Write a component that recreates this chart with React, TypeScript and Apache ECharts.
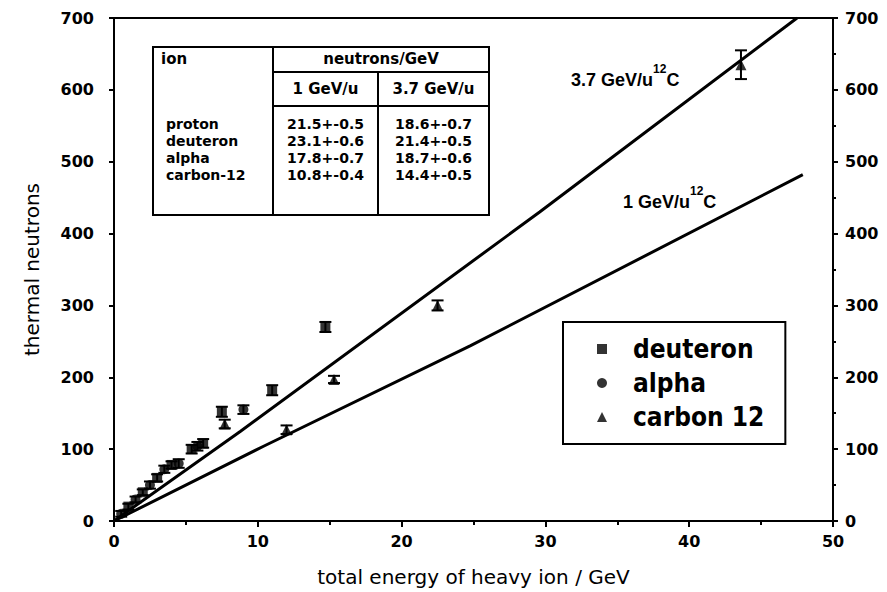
import React, { useEffect, useRef } from "react";
import * as echarts from "echarts";

// ---- data ----
const deuteronX = [1.0, 2.0, 3.0, 4.0, 5.4, 6.2, 7.5, 11.0, 14.7];
const deuteronY = [20, 40, 60, 78, 100, 108, 152, 182, 270];
const deuteronErr = [4, 4, 5, 5, 6, 6, 7, 7, 7];

const alphaX = [0.5, 1.5, 2.5, 3.5, 4.5, 5.8, 9.0];
const alphaY = [10, 30, 50, 72, 80, 104, 155];
const alphaErr = [4, 4, 5, 5, 6, 6, 6];

const carbonX = [7.7, 12.0, 15.3, 22.5, 43.6];
const carbonY = [135, 127, 197, 300, 635];
const carbonErr = [6, 6, 5, 7, 20];

const fit37X = [0, 8.8, 29.6, 47.5];
const fit37Y = [0, 125, 430, 700];
const fit1X = [0, 10.4, 24.8, 47.9];
const fit1Y = [0, 104, 244, 482];

const tableIons = ["proton", "deuteron", "alpha", "carbon-12"];
const table1GeV = ["21.5+-0.5", "23.1+-0.6", "17.8+-0.7", "10.8+-0.4"];
const table37GeV = ["18.6+-0.7", "21.4+-0.5", "18.7+-0.6", "14.4+-0.5"];

const xTitle = "total energy of heavy ion / GeV";
const yTitle = "thermal neutrons";

const pairs = (xs: number[], ys: number[]) => xs.map((x, i) => [x, ys[i]]);
const triples = (xs: number[], ys: number[], es: number[]) => xs.map((x, i) => [x, ys[i], es[i]]);

const BLACK = "#000";
const tickFont = { fontFamily: "DejaVu Sans", fontWeight: "bold" as const, fontSize: 16, color: BLACK };
const tableFont = "DejaVu Sans";

function errorBarSeries(data: number[][]) {
  return {
    type: "custom",
    silent: true,
    z: 3,
    data,
    renderItem: (params: any, api: any) => {
      const x = api.value(0);
      const y = api.value(1);
      const e = api.value(2);
      const top = api.coord([x, y + e]);
      const bot = api.coord([x, y - e]);
      const hw = 6;
      const st = { stroke: BLACK, lineWidth: 2 };
      return {
        type: "group",
        children: [
          { type: "line", shape: { x1: top[0], y1: top[1], x2: bot[0], y2: bot[1] }, style: st },
          { type: "line", shape: { x1: top[0] - hw, y1: top[1], x2: top[0] + hw, y2: top[1] }, style: st },
          { type: "line", shape: { x1: bot[0] - hw, y1: bot[1], x2: bot[0] + hw, y2: bot[1] }, style: st },
        ],
      };
    },
  };
}

function buildTable() {
  const L = 153, R = 489, T = 47, B = 215;
  const c1 = 273, c2 = 378;
  const h1 = 72, h2 = 106;
  const lw = 2;
  const els: any[] = [];
  els.push({ type: "rect", shape: { x: L, y: T, width: R - L, height: B - T }, style: { fill: "#fff", stroke: BLACK, lineWidth: lw } });
  els.push({ type: "line", shape: { x1: c1, y1: T, x2: c1, y2: B }, style: { stroke: BLACK, lineWidth: lw } });
  els.push({ type: "line", shape: { x1: c2, y1: h1, x2: c2, y2: B }, style: { stroke: BLACK, lineWidth: lw } });
  els.push({ type: "line", shape: { x1: c1, y1: h1, x2: R, y2: h1 }, style: { stroke: BLACK, lineWidth: lw } });
  els.push({ type: "line", shape: { x1: c1, y1: h2, x2: R, y2: h2 }, style: { stroke: BLACK, lineWidth: lw } });
  const txt = (t: string, x: number, y: number, align: string, size = 14) => ({
    type: "text",
    x,
    y,
    style: { text: t, fill: BLACK, font: `bold ${size}px "${tableFont}"`, lineHeight: size, align, verticalAlign: "middle" },
  });
  els.push(txt("ion", 161, 59, "left", 15));
  els.push(txt("neutrons/GeV", (c1 + R) / 2, 59, "center", 15));
  els.push(txt("1 GeV/u", (c1 + c2) / 2, 89, "center", 15));
  els.push(txt("3.7 GeV/u", (c2 + R) / 2, 89, "center", 15));
  const rowY0 = 124, rowStep = 17;
  tableIons.forEach((ion, i) => {
    const y = rowY0 + i * rowStep;
    els.push(txt(ion, 166, y, "left"));
    els.push(txt(table1GeV[i], (c1 + c2) / 2, y, "center"));
    els.push(txt(table37GeV[i], (c2 + R) / 2, y, "center"));
  });
  return els;
}

function buildAnnotations() {
  const items = [
    { x: 571, y: 76, main: "3.7 GeV/u" },
    { x: 623, y: 198, main: "1 GeV/u" },
  ];
  const els: any[] = [];
  items.forEach((it) => {
    els.push({
      type: "text",
      x: it.x,
      y: it.y,
      style: {
        text: `{m|${it.main}}{s|12}{m|C}`,
        rich: {
          m: { font: `bold 18px "Liberation Sans"`, fill: BLACK, lineHeight: 26, verticalAlign: "bottom" },
          s: { font: `bold 12px "Liberation Sans"`, fill: BLACK, lineHeight: 26, verticalAlign: "top" },
        },
        verticalAlign: "middle",
        align: "left",
      },
    });
  });
  return els;
}

export default function App() {
  const ref = useRef<HTMLDivElement>(null);
  useEffect(() => {
    if (!ref.current) return;
    const chart = echarts.init(ref.current, null, { renderer: "svg" });
    const yAxisBase = {
      type: "value",
      min: 0,
      max: 700,
      interval: 100,
      splitLine: { show: false },
      axisLine: { show: true, lineStyle: { color: BLACK, width: 2 } },
      axisLabel: { ...tickFont },
    };
    chart.setOption({
      animation: false,
      backgroundColor: "#fff",
      grid: { left: 114, right: 54, top: 18, bottom: 69, show: true, borderColor: BLACK, borderWidth: 2, backgroundColor: "transparent" },
      xAxis: {
        type: "value",
        min: 0,
        max: 50,
        interval: 10,
        name: xTitle,
        nameLocation: "middle",
        nameGap: 46,
        nameTextStyle: { fontFamily: "DejaVu Sans", fontSize: 20, color: BLACK },
        splitLine: { show: false },
        axisLine: { onZero: false, lineStyle: { color: BLACK, width: 2 } },
        axisTick: { length: 6, lineStyle: { color: BLACK, width: 2 } },
        minorTick: { show: true, splitNumber: 2, length: 4, lineStyle: { color: BLACK, width: 2 } },
        axisLabel: { ...tickFont, margin: 12 },
      },
      yAxis: [
        {
          ...yAxisBase,
          position: "left",
          name: yTitle,
          nameLocation: "middle",
          nameGap: 72,
          nameTextStyle: { fontFamily: "DejaVu Sans", fontSize: 20, color: BLACK },
          axisTick: { length: 5, lineStyle: { color: BLACK, width: 2 } },
          axisLabel: { ...tickFont, margin: 20 },
        },
        {
          ...yAxisBase,
          position: "right",
          axisTick: { length: 5, lineStyle: { color: BLACK, width: 2 } },
          minorTick: { show: true, splitNumber: 2, length: 3, lineStyle: { color: BLACK, width: 2 } },
          axisLabel: { ...tickFont, margin: 12 },
        },
      ],
      legend: {
        orient: "vertical",
        left: 563,
        top: 322,
        backgroundColor: "#fff",
        borderColor: BLACK,
        borderWidth: 2,
        padding: [14, 21, 14, 34],
        itemGap: 8,
        itemWidth: 10,
        itemHeight: 10,
        selectedMode: false,
        textStyle: {
          fontFamily: "DejaVu Sans Condensed",
          fontWeight: "bold",
          fontSize: 26,
          lineHeight: 26,
          color: BLACK,
          padding: [0, 0, 0, 21],
        },
        data: [
          { name: "deuteron", icon: "rect" },
          { name: "alpha", icon: "circle" },
          { name: "carbon 12", icon: "triangle" },
        ],
      },
      graphic: [...buildTable(), ...buildAnnotations()],
      series: [
        {
          name: "3.7 GeV/u fit",
          type: "line",
          data: pairs(fit37X, fit37Y),
          showSymbol: false,
          lineStyle: { color: BLACK, width: 3 },
          z: 2,
        },
        {
          name: "1 GeV/u fit",
          type: "line",
          data: pairs(fit1X, fit1Y),
          showSymbol: false,
          lineStyle: { color: BLACK, width: 3 },
          z: 2,
        },
        errorBarSeries(triples(deuteronX, deuteronY, deuteronErr)),
        errorBarSeries(triples(alphaX, alphaY, alphaErr)),
        errorBarSeries(triples(carbonX, carbonY, carbonErr)),
        {
          name: "deuteron",
          type: "scatter",
          symbol: "rect",
          symbolSize: 10,
          itemStyle: { color: BLACK },
          data: pairs(deuteronX, deuteronY),
          z: 4,
        },
        {
          name: "alpha",
          type: "scatter",
          symbol: "circle",
          symbolSize: 10,
          itemStyle: { color: BLACK },
          data: pairs(alphaX, alphaY),
          z: 4,
        },
        {
          name: "carbon 12",
          type: "scatter",
          symbol: "triangle",
          symbolSize: 11,
          itemStyle: { color: BLACK },
          data: pairs(carbonX, carbonY),
          z: 4,
        },
      ],
    });
    return () => chart.dispose();
  }, []);
  return <div ref={ref} style={{ width: 887, height: 592, position: "absolute", left: 0, top: 0 }} />;
}
